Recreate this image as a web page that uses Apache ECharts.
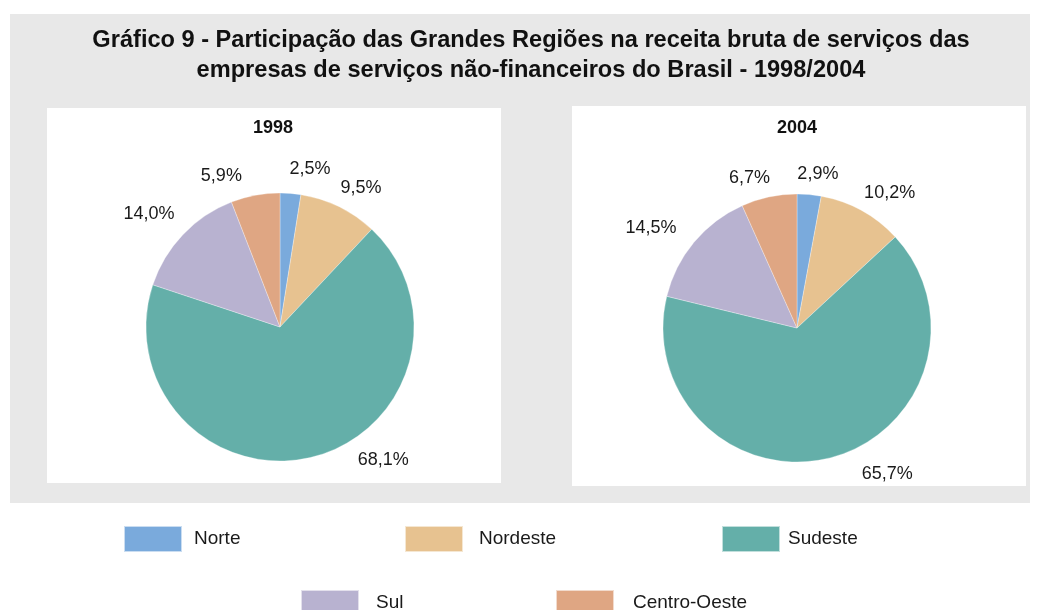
<!DOCTYPE html>
<html><head><meta charset="utf-8">
<script src="https://cdn.jsdelivr.net/npm/echarts@6/dist/echarts.min.js"></script>
<style>html,body{margin:0;padding:0;background:#fff}#c{width:1039px;height:610px}</style>
</head><body><div id="c"></div>
<script>
const regions = ['Norte', 'Nordeste', 'Sudeste', 'Sul', 'Centro-Oeste'];
const colors = ['#7aaadc', '#e7c290', '#64afa9', '#b8b2d0', '#dfa683'];
const values1998 = [2.5, 9.5, 68.1, 14.0, 5.9];
const values2004 = [2.9, 10.2, 65.7, 14.5, 6.7];
const years = ['1998', '2004'];
const titleLines = ['Gráfico 9 - Participação das Grandes Regiões na receita bruta de serviços das', 'empresas de serviços não-financeiros do Brasil - 1998/2004'];

const FONT = '"Liberation Sans", Arial, sans-serif';
const chart = echarts.init(document.getElementById('c'));

// label nudges (style only) per series, indexed like regions
const labelNudge = [
  [[-8, 0], [-14, 3], [34, -20], [14, -4], [-4, 4]],
  [[-19, 3], [-14, 3], [20, -7], [6, 1], [11, 5]]
];
const legendPos = [[123, 525], [404, 525], [721, 525], [300, 589], [555, 589]];
const legendGap = [7, 11, 3, 12, 14];

function mkData(vals, s) {
  return regions.map((r, i) => ({
    name: r, value: vals[i], itemStyle: { color: colors[i] },
    label: { offset: labelNudge[s][i] }
  }));
}
function fmt(p) { return p.value.toFixed(1).replace('.', ',') + '%'; }

const pieBase = {
  type: 'pie',
  radius: 134,
  startAngle: 90,
  clockwise: true,
  avoidLabelOverlap: false,
  label: { show: true, position: 'outside', formatter: fmt, color: '#1a1a1a', fontSize: 18, fontFamily: FONT },
  labelLine: { show: false, length: 24, length2: 0 },
  emphasis: { disabled: true },
  itemStyle: { borderColor: 'rgba(255,255,255,0.6)', borderWidth: 0.5 }
};

chart.setOption({
  animation: false,
  backgroundColor: '#fff',
  graphic: [
    { type: 'rect', shape: { x: 10, y: 14, width: 1020, height: 489 }, style: { fill: '#e8e8e8' }, z: -10 },
    { type: 'rect', shape: { x: 47, y: 108, width: 454, height: 375 }, style: { fill: '#fff' }, z: -9 },
    { type: 'rect', shape: { x: 572, y: 106, width: 454, height: 380 }, style: { fill: '#fff' }, z: -9 }
  ],
  title: [
    { text: titleLines.join('\n'), left: 531, top: 25, textAlign: 'center', padding: 0,
      textStyle: { fontFamily: FONT, fontSize: 23.6, fontWeight: 'bold', color: '#111', lineHeight: 30 } },
    { text: years[0], left: 273, top: 119, textAlign: 'center', padding: 0,
      textStyle: { fontFamily: FONT, fontSize: 18, fontWeight: 'bold', color: '#111' } },
    { text: years[1], left: 797, top: 119, textAlign: 'center', padding: 0,
      textStyle: { fontFamily: FONT, fontSize: 18, fontWeight: 'bold', color: '#111' } }
  ],
  legend: regions.map((r, i) => ({
    data: [r], left: legendPos[i][0], top: legendPos[i][1], itemWidth: 58, itemHeight: 26, itemGap: 0,
    icon: 'rect', selectedMode: false, padding: 0,
    textStyle: { fontFamily: FONT, fontSize: 19, color: '#1a1a1a', padding: [0, 0, 0, legendGap[i]] }
  })),
  series: [
    Object.assign({}, pieBase, { name: years[0], center: [280, 327], data: mkData(values1998, 0) }),
    Object.assign({}, pieBase, { name: years[1], center: [797, 328], data: mkData(values2004, 1) })
  ]
});
</script></body></html>
